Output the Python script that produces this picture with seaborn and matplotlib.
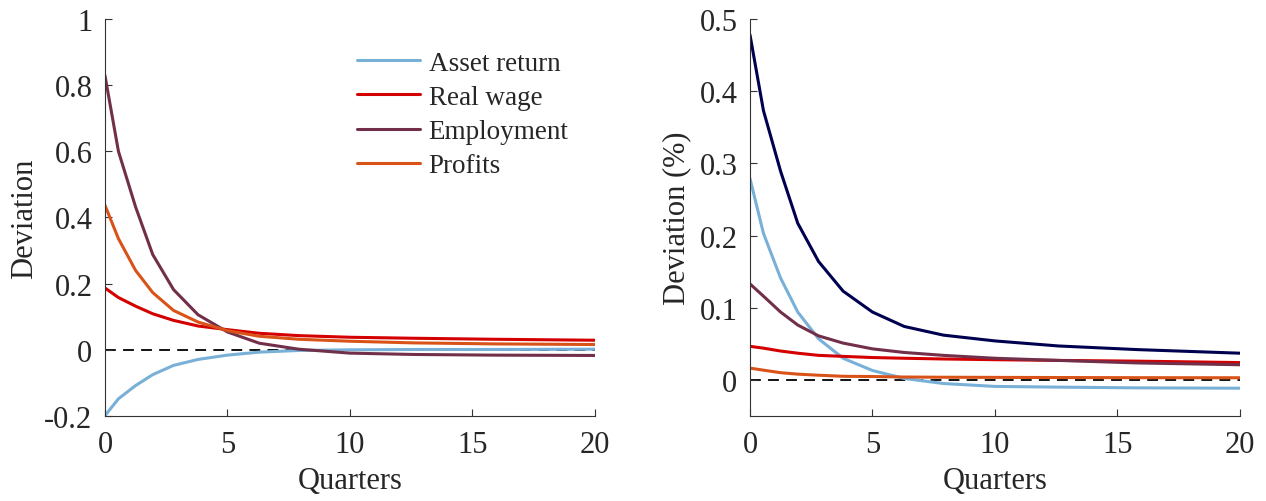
import numpy as np
import pandas as pd
import matplotlib
matplotlib.use("Agg")
import matplotlib.pyplot as plt
import seaborn as sns

# grid of quarters used by the model output
quarters = [0, 0.55, 1.25, 1.95, 2.8, 3.8, 5, 6.3, 7.9, 10, 12.6, 15.8, 20]

# left panel
asset_return_l = [-0.199, -0.148, -0.108, -0.075, -0.047, -0.029, -0.016, -0.007, -0.002, 0.0, 0.001, 0.001, 0.002]
real_wage_l = [0.187, 0.158, 0.132, 0.109, 0.089, 0.072, 0.061, 0.050, 0.043, 0.038, 0.035, 0.032, 0.029]
employment_l = [0.829, 0.600, 0.432, 0.288, 0.182, 0.106, 0.054, 0.020, 0.002, -0.010, -0.014, -0.016, -0.017]
profits_l = [0.437, 0.336, 0.240, 0.173, 0.119, 0.084, 0.058, 0.041, 0.032, 0.026, 0.021, 0.018, 0.016]

# right panel
navy_r = [0.478, 0.373, 0.289, 0.217, 0.164, 0.123, 0.094, 0.074, 0.062, 0.054, 0.047, 0.042, 0.037]
asset_return_r = [0.279, 0.203, 0.141, 0.094, 0.057, 0.030, 0.013, 0.002, -0.005, -0.009, -0.010, -0.011, -0.0115]
real_wage_r = [0.0465, 0.044, 0.040, 0.037, 0.034, 0.0326, 0.031, 0.030, 0.029, 0.028, 0.027, 0.026, 0.024]
employment_r = [0.133, 0.116, 0.094, 0.076, 0.061, 0.051, 0.043, 0.038, 0.034, 0.030, 0.027, 0.0235, 0.021]
profits_r = [0.0163, 0.0135, 0.010, 0.008, 0.0065, 0.005, 0.0047, 0.004, 0.0037, 0.0035, 0.0033, 0.0031, 0.003]

names = ["Asset return", "Real wage", "Employment", "Profits"]
colors = {"Asset return": "#78b0d8", "Real wage": "#d40000",
          "Employment": "#722f4a", "Profits": "#d95319", "Total": "#000050"}

left = pd.DataFrame({"q": quarters * 4,
                     "val": asset_return_l + real_wage_l + employment_l + profits_l,
                     "series": np.repeat(names, len(quarters))})
right = pd.DataFrame({"q": quarters * 5,
                      "val": navy_r + asset_return_r + real_wage_r + employment_r + profits_r,
                      "series": np.repeat(["Total"] + names, len(quarters))})

sns.set_style("ticks")
plt.rcParams["font.family"] = ["Liberation Serif", "DejaVu Serif"]
plt.rcParams["xtick.direction"] = "in"
plt.rcParams["ytick.direction"] = "in"

fig = plt.figure(figsize=(12.66, 5.02), dpi=100)
ax1 = fig.add_axes([0.0829, 0.1693, 0.387, 0.791])
ax2 = fig.add_axes([0.5924, 0.1693, 0.387, 0.791])

sns.lineplot(data=left, x="q", y="val", hue="series", palette=colors,
             linewidth=2.2, ax=ax1, hue_order=names)
sns.lineplot(data=right, x="q", y="val", hue="series", palette=colors,
             linewidth=2.2, ax=ax2, legend=False)

for ax in (ax1, ax2):
    ax.axhline(0, color="black", linestyle=(0, (6, 4)), linewidth=1.3, zorder=0)
    ax.set_xlim(0, 20)
    ax.set_xticks([0, 5, 10, 15, 20])
    ax.set_xlabel("Quarters", fontsize=22, labelpad=5)
    ax.tick_params(labelsize=22, length=5, width=0.8, color="#333333", pad=9)
    ax.tick_params(axis="x", pad=10)
    for s in ("left", "bottom"):
        ax.spines[s].set_linewidth(0.8)
        ax.spines[s].set_color("#333333")
    sns.despine(ax=ax)

ax1.set_ylim(-0.2, 1)
ax1.set_yticks([-0.2, 0, 0.2, 0.4, 0.6, 0.8, 1])
ax1.set_yticklabels(["-0.2", "0", "0.2", "0.4", "0.6", "0.8", "1"])
ax1.set_ylabel("Deviation", fontsize=22, labelpad=4)

ax2.set_ylim(-0.05, 0.5)
ax2.set_yticks([0, 0.1, 0.2, 0.3, 0.4, 0.5])
ax2.set_yticklabels(["0", "0.1", "0.2", "0.3", "0.4", "0.5"])
ax2.set_ylabel("Deviation (%)", fontsize=22, labelpad=6)

ax1.legend(frameon=False, fontsize=19.5, loc="upper left",
           bbox_to_anchor=(0.514, 0.92), handlelength=2.35,
           handletextpad=0.3, labelspacing=0.34, borderaxespad=0, borderpad=0)

fig.savefig("out.png", dpi=100)
